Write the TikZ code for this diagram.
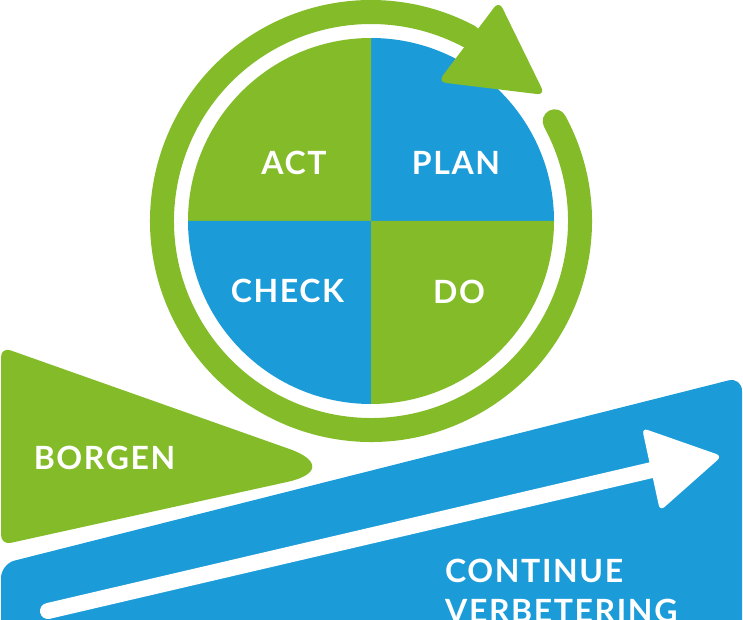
\documentclass[tikz,border=0pt]{standalone}
\usepackage{fontspec}
\setmainfont[LetterSpace=5]{Lato}
\usetikzlibrary{positioning,calc}
\definecolor{pgreen}{HTML}{83BC28}
\definecolor{pblue}{HTML}{1B9CD9}

\begin{document}
\begin{tikzpicture}[x=1pt, y=1pt,
   lbl/.style={text=white, inner sep=0pt, font=\fontsize{32}{38}\selectfont\bfseries},
   ring/.style={draw=pgreen, line width=24pt, line cap=round}]
  \useasboundingbox (0,0) rectangle (743,619);
  \clip (0,0) rectangle (743,619);
  % pdca wheel
  \coordinate (c) at (371,398);
  \foreach \a/\col in {0/pblue, 90/pgreen, 180/pblue, 270/pgreen}
    \fill[\col] (c) -- ++(\a:183) arc[start angle=\a, end angle=\a+90, radius=183] -- cycle;
  \draw[ring] ($(c)+(28.5:209)$) arc[start angle=28.5, end angle=-298, radius=209];
  \fill[pgreen, rounded corners=8pt] (499,618) -- (545,524) -- (438,537) -- cycle;
  \node[lbl] (act) at (294,456) {ACT};
  \node[lbl] (plan) at (456,456.5) {PLAN};
  \node[lbl] (check) at (287.5,328) {CHECK};
  \node[lbl] (do) at (459,327.3) {DO};
  % borgen
  \fill[pgreen] (1,173) [rounded corners=10pt] -- (1,272) [rounded corners=60pt] -- (346,150)
     [rounded corners=10pt] -- (1,74) -- cycle;
  \node[lbl] (borgen) at (104.5,161.5) {BORGEN};
  % continue verbetering
  \fill[pblue, rounded corners=14pt] (1,-40) -- (1,55) -- (742,242) -- (742,-40) -- cycle;
  \coordinate (s) at (48,8);
  \coordinate (b) at (654,149.5);
  \draw[white, line width=16pt, line cap=round] (s) -- (b);
  \fill[white, rounded corners=6pt] (642,191) -- (722,163) -- (660,108) -- cycle;
  \node[lbl, anchor=base west] (cont) at (445,37) {CONTINUE};
  \node[lbl, anchor=base west] (verb) at (445,-3) {VERBETERING};
\end{tikzpicture}
\end{document}
